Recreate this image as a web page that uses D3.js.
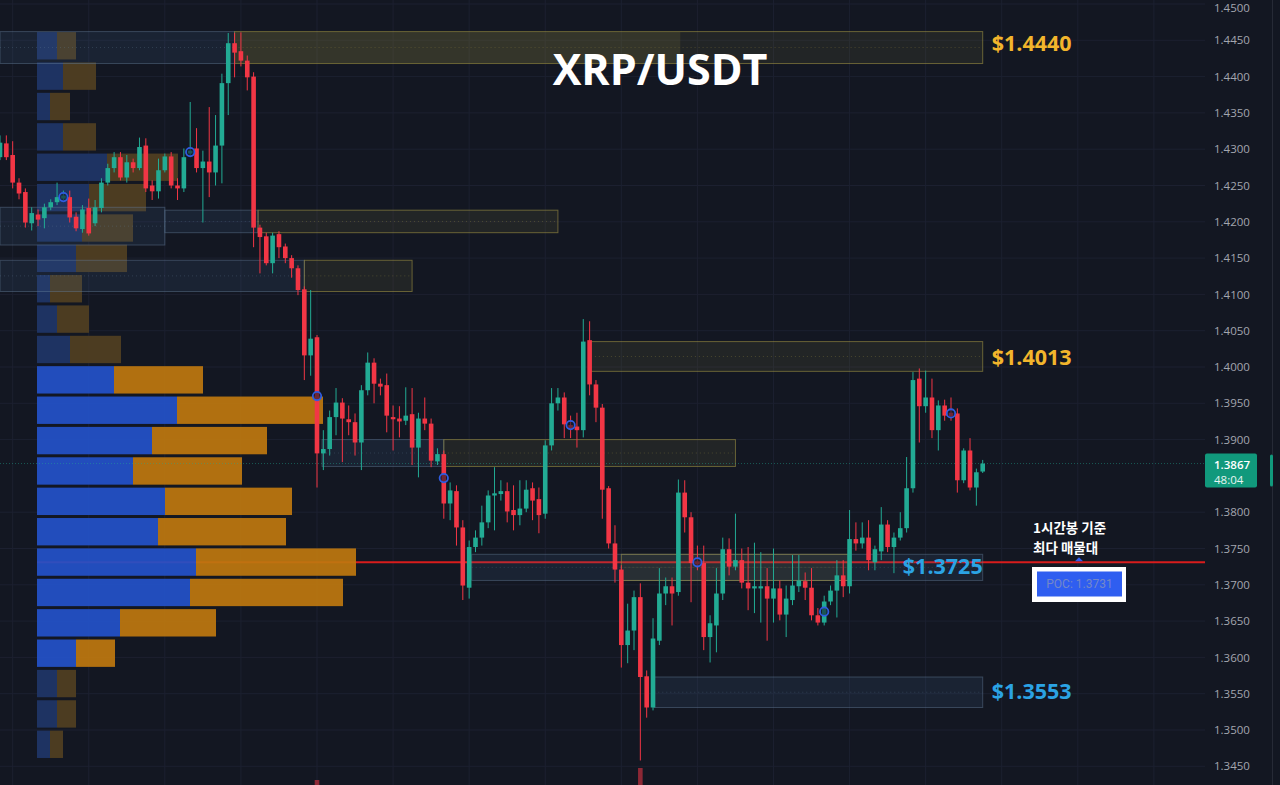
<!DOCTYPE html>
<html><head><meta charset="utf-8">
<script src="https://cdn.jsdelivr.net/npm/d3@7/dist/d3.min.js"></script>
<style>html,body{margin:0;padding:0;background:#131722;overflow:hidden}</style>
</head><body>
<svg id="c" width="1280" height="785"></svg>
<script>
// ---------- DATA ----------
const title = "XRP/USDT";
const openP = [1.4289,1.4308,1.4292,1.4254,1.4241,1.4198,1.4210,1.4205,1.4220,1.4227,
1.4232,1.4234,1.4207,1.4190,1.4219,1.4198,1.4219,1.4254,1.4274,1.4289,
1.4261,1.4282,1.4274,1.4305,1.4250,1.4242,1.4271,1.4290,1.4250,1.4246,
1.4294,1.4301,1.4274,1.4283,1.4268,1.4305,1.4391,1.4446,1.4435,1.4422,
1.4400,1.4192,1.4180,1.4143,1.4183,1.4166,1.4150,1.4136,1.4107,1.4016,
1.4041,1.3881,1.3887,1.3931,1.3951,1.3928,1.3924,1.3896,1.3968,1.4006,
1.3977,1.3975,1.3931,1.3929,1.3926,1.3935,1.3889,1.3929,1.3922,1.3870,
1.3880,1.3812,1.3829,1.3779,1.3696,1.3752,1.3765,1.3786,1.3823,1.3825,
1.3829,1.3803,1.3796,1.3805,1.3833,1.3818,1.3798,1.3892,1.3950,1.3958,
1.3920,1.3918,1.3913,1.4037,1.3976,1.3944,1.3833,1.3757,1.3721,1.3617,
1.3637,1.3683,1.3574,1.3531,1.3623,1.3688,1.3698,1.3690,1.3827,1.3793,
1.3732,1.3730,1.3628,1.3644,1.3688,1.3749,1.3725,1.3734,1.3703,1.3695,
1.3695,1.3698,1.3681,1.3695,1.3659,1.3679,1.3698,1.3705,1.3696,1.3658,
1.3648,1.3677,1.3692,1.3713,1.3698,1.3763,1.3757,1.3765,1.3731,1.3746,
1.3783,1.3752,1.3765,1.3778,1.3833,1.3984,1.3946,1.3958,1.3913,1.3947,
1.3937,1.3936,1.3844,1.3885,1.3834,1.3856];
const highP = [1.4319,1.4319,1.4311,1.4260,1.4246,1.4220,1.4217,1.4225,1.4231,1.4254,
1.4243,1.4243,1.4213,1.4223,1.4232,1.4230,1.4260,1.4280,1.4296,1.4296,
1.4292,1.4287,1.4316,1.4315,1.4257,1.4287,1.4294,1.4296,1.4260,1.4301,
1.4365,1.4329,1.4298,1.4358,1.4347,1.4404,1.4460,1.4460,1.4461,1.4429,
1.4406,1.4196,1.4185,1.4185,1.4187,1.4170,1.4154,1.4140,1.4111,1.4106,
1.4044,1.3913,1.3940,1.3971,1.3957,1.3947,1.3936,1.3975,1.4020,1.4012,
1.3984,1.3991,1.3947,1.3946,1.3972,1.3971,1.3937,1.3958,1.3929,1.3888,
1.3885,1.3841,1.3837,1.3789,1.3761,1.3775,1.3809,1.3830,1.3862,1.3844,
1.3841,1.3837,1.3844,1.3844,1.3841,1.3834,1.3899,1.3971,1.3971,1.3965,
1.3933,1.3937,1.4066,1.4063,1.3982,1.3949,1.3836,1.3782,1.3727,1.3674,
1.3692,1.3702,1.3582,1.3654,1.3723,1.3710,1.3710,1.3845,1.3844,1.3800,
1.3754,1.3754,1.3658,1.3723,1.3765,1.3764,1.3798,1.3750,1.3752,1.3758,
1.3745,1.3723,1.3750,1.3706,1.3699,1.3741,1.3741,1.3717,1.3723,1.3668,
1.3685,1.3699,1.3734,1.3734,1.3803,1.3786,1.3786,1.3789,1.3754,1.3807,
1.3789,1.3772,1.3800,1.3876,1.3993,1.3998,1.3995,1.3984,1.3954,1.3955,
1.3958,1.3943,1.3888,1.3902,1.3860,1.3872];
const lowP = [1.4285,1.4285,1.4246,1.4231,1.4192,1.4188,1.4194,1.4191,1.4216,1.4223,
1.4230,1.4199,1.4187,1.4185,1.4181,1.4194,1.4213,1.4250,1.4268,1.4257,
1.4254,1.4268,1.4271,1.4241,1.4230,1.4232,1.4268,1.4246,1.4230,1.4241,
1.4290,1.4268,1.4199,1.4234,1.4250,1.4253,1.4347,1.4399,1.4414,1.4381,
1.4165,1.4129,1.4140,1.4129,1.4150,1.4143,1.4123,1.4099,1.3982,1.3988,
1.3834,1.3858,1.3878,1.3906,1.3869,1.3906,1.3878,1.3858,1.3961,1.3950,
1.3961,1.3910,1.3885,1.3903,1.3920,1.3865,1.3848,1.3913,1.3862,1.3865,
1.3791,1.3789,1.3754,1.3679,1.3681,1.3745,1.3754,1.3778,1.3775,1.3816,
1.3786,1.3775,1.3782,1.3800,1.3789,1.3771,1.3791,1.3885,1.3940,1.3902,
1.3902,1.3889,1.3903,1.3961,1.3924,1.3791,1.3750,1.3703,1.3586,1.3592,
1.3610,1.3458,1.3517,1.3527,1.3617,1.3672,1.3644,1.3685,1.3772,1.3676,
1.3720,1.3610,1.3593,1.3607,1.3679,1.3713,1.3720,1.3695,1.3665,1.3661,
1.3648,1.3623,1.3648,1.3651,1.3628,1.3672,1.3690,1.3679,1.3651,1.3644,
1.3644,1.3672,1.3655,1.3683,1.3688,1.3747,1.3750,1.3720,1.3720,1.3734,
1.3745,1.3716,1.3761,1.3772,1.3827,1.3896,1.3937,1.3902,1.3885,1.3926,
1.3926,1.3827,1.3840,1.3830,1.3809,1.3854];
const closeP = [1.4309,1.4289,1.4254,1.4239,1.4199,1.4212,1.4203,1.4220,1.4227,1.4234,
1.4236,1.4206,1.4191,1.4217,1.4184,1.4220,1.4254,1.4274,1.4289,1.4261,
1.4282,1.4274,1.4303,1.4246,1.4242,1.4271,1.4290,1.4250,1.4246,1.4289,
1.4298,1.4274,1.4283,1.4268,1.4305,1.4391,1.4446,1.4433,1.4422,1.4399,
1.4192,1.4179,1.4143,1.4181,1.4165,1.4150,1.4136,1.4106,1.4016,1.4039,
1.3881,1.3887,1.3931,1.3951,1.3929,1.3924,1.3896,1.3968,1.4006,1.3977,
1.3973,1.3933,1.3928,1.3925,1.3933,1.3889,1.3929,1.3922,1.3871,1.3880,
1.3812,1.3830,1.3779,1.3699,1.3752,1.3765,1.3786,1.3823,1.3826,1.3829,
1.3801,1.3796,1.3805,1.3831,1.3816,1.3796,1.3892,1.3950,1.3958,1.3921,
1.3915,1.3913,1.4035,1.3976,1.3944,1.3831,1.3757,1.3721,1.3617,1.3637,
1.3683,1.3573,1.3531,1.3626,1.3688,1.3698,1.3688,1.3827,1.3793,1.3730,
1.3728,1.3628,1.3647,1.3688,1.3749,1.3725,1.3734,1.3703,1.3695,1.3698,
1.3698,1.3681,1.3695,1.3659,1.3681,1.3699,1.3706,1.3696,1.3658,1.3648,
1.3677,1.3692,1.3713,1.3698,1.3763,1.3757,1.3765,1.3734,1.3749,1.3783,
1.3752,1.3765,1.3778,1.3833,1.3982,1.3946,1.3958,1.3913,1.3947,1.3933,
1.3932,1.3844,1.3885,1.3834,1.3855,1.3867];

const yTicks = [1.4500,1.4450,1.4400,1.4350,1.4300,1.4250,1.4200,1.4150,1.4100,1.4050,1.4000,
1.3950,1.3900,1.3800,1.3750,1.3700,1.3650,1.3600,1.3550,1.3500,1.3450];

// volume profile (top row = highest price)
const profileHigh = 1.4462, profileLow = 1.3458;
const profileBuy  = [20,26,13,26,70,52,45,39,13,20,33,77,140,115,96,128,121,159,153,83,39,20,20,13];
const profileSell = [19,33,20,33,71,57,51,51,32,32,51,89,146,115,109,127,128,160,153,96,39,19,19,13];
const valueAreaFirst = 11, valueAreaLast = 20;
const pocPrice = 1.3731;

// zones: start/end in bar index, top/bottom in price
const zoneStart = [0, 37, 37, 0, 26, 40.7, 0, 48, 93.2, 50.8, 70, 74.4, 98, 103.2];
const zoneEnd   = [37, 155, 107.3, 26, 40.7, 88, 48, 65, 155, 70, 116, 155, 133.8, 155];
const zoneTop   = [1.4462,1.4462,1.4462,1.4220,1.4216,1.4216,1.4147,1.4147,1.4035,1.3900,1.3900,1.3742,1.3742,1.3573];
const zoneBot   = [1.4418,1.4418,1.4418,1.4168,1.4185,1.4185,1.4104,1.4104,1.3994,1.3863,1.3863,1.3706,1.3706,1.3531];
const zoneKind  = ["demand","supply","supplyFill","demand","demand","supply","demand","supply","supply","demand","supply","demand","supply","demand"];

const levelPrice = [1.4440, 1.4013, 1.3725, 1.3553];
const levelKind  = ["resistance","resistance","support","support"];

const markerIdx   = [10,30,50,70,90,110,130,150];
const markerPrice = [1.4234,1.4296,1.3960,1.3847,1.3920,1.3731,1.3663,1.3936];

const volIdx = [50, 101];
const volVal = [5, 17];

const lastPrice = 1.3867, countdown = "48:04";
const noteLines = ["1시간봉 기준", "최다 매물대"];

// ---------- DRAW ----------
const svg = d3.select("#c");
const W = 1280, H = 785, plotR = 1205;
const x = d3.scaleLinear().domain([0, 155]).range([0, 982.7]);
const y = d3.scaleLinear().domain([1.345, 1.45]).range([766.3, 4]);
const UP = "#22ab94", DN = "#f23645";

svg.append("rect").attr("width", W).attr("height", H).attr("fill", "#131722");

// grid
const g = svg.append("g");
g.selectAll("line.h").data(yTicks).join("line")
  .attr("x1", 0).attr("x2", plotR).attr("y1", d => y(d)).attr("y2", d => y(d))
  .attr("stroke", "#1c2030").attr("stroke-width", 1);
g.selectAll("line.v").data(d3.range(2, 190, 12)).join("line")
  .attr("x1", d => x(d)).attr("x2", d => x(d)).attr("y1", 0).attr("y2", H)
  .attr("stroke", "#1c2030").attr("stroke-width", 1);

// POC line
svg.append("line").attr("x1", 37).attr("x2", plotR).attr("y1", y(pocPrice)).attr("y2", y(pocPrice))
  .attr("stroke", "#d81c1c").attr("stroke-width", 2);

// volume profile
const rowH = (profileHigh - profileLow) / profileBuy.length;
const vmax = d3.max(profileBuy.map((b, i) => b + profileSell[i]));
const vx = d3.scaleLinear().domain([0, vmax]).range([0, 319]);
const prof = svg.append("g");
profileBuy.forEach((b, i) => {
  const top = profileHigh - i * rowH, bot = top - rowH;
  const y0 = y(top) + 0.5, h = y(bot) - y(top) - 3;
  const inVA = i >= valueAreaFirst && i <= valueAreaLast;
  prof.append("rect").attr("x", 37).attr("y", y0).attr("width", vx(b)).attr("height", h)
    .attr("fill", inVA ? "#2352c8" : "#1f3566").attr("opacity", inVA ? 0.93 : 0.95);
  prof.append("rect").attr("x", 37 + vx(b)).attr("y", y0).attr("width", vx(profileSell[i])).attr("height", h)
    .attr("fill", inVA ? "#bd770f" : "#4f3e22").attr("opacity", inVA ? 0.93 : 0.95);
});

// zones
const zg = svg.append("g");
zoneStart.forEach((s, i) => {
  const k = zoneKind[i];
  const x0 = x(s), x1 = x(zoneEnd[i]), y0 = y(zoneTop[i]), y1 = y(zoneBot[i]);
  let fill, stroke;
  if (k === "supply") { fill = "rgba(120,115,60,0.16)"; stroke = "rgba(170,155,70,0.55)"; }
  else if (k === "supplyFill") { fill = "rgba(120,115,60,0.22)"; stroke = "none"; }
  else { fill = "rgba(70,100,140,0.16)"; stroke = "rgba(100,125,150,0.45)"; }
  zg.append("rect").attr("x", x0).attr("y", y0).attr("width", x1 - x0).attr("height", y1 - y0)
    .attr("fill", fill).attr("stroke", stroke).attr("stroke-width", 1);
  if (k !== "supplyFill") {
    zg.append("line").attr("x1", x0).attr("x2", x1).attr("y1", (y0 + y1) / 2).attr("y2", (y0 + y1) / 2)
      .attr("stroke", k === "supply" ? "rgba(170,155,70,0.3)" : "rgba(100,125,150,0.3)")
      .attr("stroke-dasharray", "1,3");
  }
});

// current price dotted line
svg.append("line").attr("x1", 0).attr("x2", plotR).attr("y1", y(lastPrice)).attr("y2", y(lastPrice))
  .attr("stroke", "#22ab94").attr("stroke-opacity", 0.45).attr("stroke-dasharray", "1,2");

// volume bars peeking at bottom
svg.append("g").selectAll("rect").data(volIdx).join("rect")
  .attr("x", d => x(d) - 2.3).attr("width", 4.6)
  .attr("y", (d, i) => H - volVal[i]).attr("height", (d, i) => volVal[i])
  .attr("fill", "#f23645").attr("opacity", 0.55);

// candles
const cg = svg.append("g");
openP.forEach((o, i) => {
  const c = closeP[i], up = c >= o, col = up ? UP : DN, cx = x(i);
  cg.append("line").attr("x1", cx).attr("x2", cx).attr("y1", y(highP[i])).attr("y2", y(lowP[i]))
    .attr("stroke", col).attr("stroke-width", 1);
  const t = y(Math.max(o, c)), b = y(Math.min(o, c));
  cg.append("rect").attr("x", cx - 2.3).attr("width", 4.6).attr("y", t).attr("height", Math.max(1, b - t))
    .attr("fill", col);
});

// markers
svg.append("g").selectAll("circle").data(markerIdx).join("circle")
  .attr("cx", d => x(d)).attr("cy", (d, i) => y(markerPrice[i])).attr("r", 4.2)
  .attr("fill", "#151a2c").attr("fill-opacity", 0.6).attr("stroke", "#2f5ce0").attr("stroke-width", 1.8);

// title
svg.append("text").attr("x", 660).attr("y", 85).attr("text-anchor", "middle")
  .attr("font-family", "'Open Sans', 'Noto Sans', sans-serif").attr("font-weight", 700)
  .attr("font-size", 43).attr("fill", "#ffffff").text(title);

// level labels
const fmt4 = d3.format(".4f");
levelPrice.forEach((p, i) => {
  const inside = i === 2;
  svg.append("text")
    .attr("x", inside ? x(155) : x(155) + 9)
    .attr("y", y(p) - (i === 0 ? 4 : 0)).attr("dy", "0.36em")
    .attr("text-anchor", inside ? "end" : "start")
    .attr("font-family", "'Open Sans', sans-serif").attr("font-weight", 700).attr("font-size", 21.5)
    .attr("fill", levelKind[i] === "resistance" ? "#f2b52c" : "#2ba3e4")
    .text("$" + fmt4(p));
});

// note text
noteLines.forEach((t, i) => {
  svg.append("text").attr("x", 1033).attr("y", 533 + i * 20)
    .attr("font-family", "'Noto Sans CJK KR', sans-serif").attr("font-weight", 700)
    .attr("font-size", 13.5).attr("fill", "#ffffff").text(t);
});

// POC box
svg.append("rect").attr("x", 1032).attr("y", 567).attr("width", 94).attr("height", 35).attr("fill", "#ffffff");
svg.append("rect").attr("x", 1037).attr("y", 571.5).attr("width", 85).attr("height", 25).attr("fill", "#2f5ef0");
svg.append("text").attr("x", 1079.5).attr("y", 584).attr("dy", "0.35em").attr("text-anchor", "middle")
  .attr("font-family", "Roboto, sans-serif").attr("font-size", 12).attr("fill", "#7488c8")
  .text("POC: " + fmt4(pocPrice));
svg.append("path").attr("d", `M1075,${y(pocPrice) - 1} L1079,${y(pocPrice) - 5} L1083,${y(pocPrice) - 1} Z`)
  .attr("fill", "#2f5ef0");

// axis
const ax = svg.append("g").attr("transform", `translate(${plotR},0)`)
  .call(d3.axisRight(y).tickValues(yTicks).tickFormat(fmt4).tickSize(0).tickPadding(9));
ax.select(".domain").remove();
ax.selectAll("text").attr("font-family", "'Open Sans', sans-serif").attr("font-size", 11.5).attr("fill", "#a3a6af");
ax.selectAll(".tick").filter(d => y(d) < 8).select("text").attr("dy", "0.62em");

// last price label
svg.append("rect").attr("x", 1205).attr("y", y(lastPrice) - 10).attr("width", 52).attr("height", 34)
  .attr("rx", 2).attr("fill", "#11997c");
svg.append("text").attr("x", 1214).attr("y", y(lastPrice) + 1).attr("dy", "0.35em")
  .attr("font-family", "'Open Sans', sans-serif").attr("font-size", 11.5).attr("font-weight", 600)
  .attr("fill", "#ffffff").text(fmt4(lastPrice));
svg.append("text").attr("x", 1214).attr("y", y(lastPrice) + 16).attr("dy", "0.35em")
  .attr("font-family", "'Open Sans', sans-serif").attr("font-size", 11.5)
  .attr("fill", "#e8f5f1").text(countdown);

// right edge strip
svg.append("line").attr("x1", 1272.5).attr("x2", 1272.5).attr("y1", 0).attr("y2", H)
  .attr("stroke", "#262a36").attr("stroke-width", 1);
svg.append("rect").attr("x", 1270).attr("y", y(lastPrice) - 9).attr("width", 3).attr("height", 32)
  .attr("rx", 1.5).attr("fill", "#11997c");
</script>
</body></html>
